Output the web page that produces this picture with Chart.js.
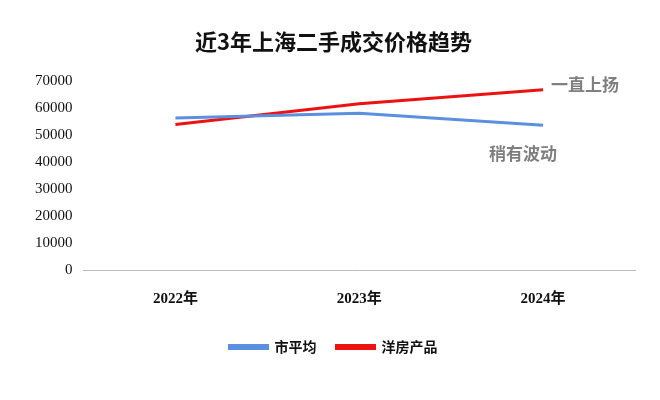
<!DOCTYPE html>
<html>
<head>
<meta charset="utf-8">
<script src="https://cdn.jsdelivr.net/npm/chart.js@4"></script>
<style>
  body { margin: 0; background: #fff; }
  #wrap { width: 660px; height: 400px; }
</style>
</head>
<body>
<div id="wrap"><canvas id="trendChart"></canvas></div>
<script>
// 数据
const years = ['2022年', '2023年', '2024年'];
const cityAvg = [56400, 58200, 53700];
const villaPrice = [54000, 61700, 66900];
const yTicks = [0, 10000, 20000, 30000, 40000, 50000, 60000, 70000];

const FONT = "'Liberation Serif', 'Noto Sans CJK SC', serif";

// 折线末端的文字标注
const notePlugin = {
    id: 'notes',
    afterDatasetsDraw(chart) {
        const c = chart.ctx;
        c.save();
        c.font = "bold 17px 'Noto Sans CJK SC'";
        c.fillStyle = '#7f7f7f';
        c.textBaseline = 'middle';
        const red = chart.getDatasetMeta(1).data[2];
        const blue = chart.getDatasetMeta(0).data[2];
        c.textAlign = 'left';
        c.fillText('一直上扬', red.x + 8, red.y - 5);
        c.textAlign = 'center';
        c.fillText('稍有波动', blue.x - 20, blue.y + 28);
        c.restore();
    }
};

new Chart(document.getElementById('trendChart'), {
    type: 'line',
    data: {
        labels: years,
        datasets: [
            { label: '市平均', data: cityAvg, borderColor: '#5b8fe0', backgroundColor: '#5b8fe0', borderWidth: 3, pointRadius: 0, tension: 0 },
            { label: '洋房产品', data: villaPrice, borderColor: '#ee1111', backgroundColor: '#ee1111', borderWidth: 3, pointRadius: 0, tension: 0 }
        ]
    },
    options: {
        responsive: true,
        maintainAspectRatio: false,
        animation: false,
        layout: { padding: { left: 32, right: 25, top: 10, bottom: 36 } },
        plugins: {
            title: {
                display: true,
                text: '近3年上海二手成交价格趋势',
                color: '#111',
                font: { family: "'Noto Sans CJK SC'", size: 22, weight: 'bold' },
                padding: { top: 18, bottom: 27 }
            },
            legend: {
                position: 'bottom',
                labels: {
                    color: '#111',
                    boxWidth: 38,
                    boxHeight: 3,
                    padding: 20,
                    font: { family: "'Noto Sans CJK SC'", size: 14, weight: 'bold' }
                }
            },
            tooltip: { enabled: false }
        },
        scales: {
            y: {
                min: 0,
                max: 70000,
                afterBuildTicks(axis) { axis.ticks = yTicks.map(v => ({ value: v })); },
                grid: { display: false },
                border: { display: false },
                ticks: { color: '#111', font: { family: FONT, size: 15 }, callback: v => String(v) }
            },
            x: {
                offset: true,
                grid: { display: false },
                border: { color: '#bbb' },
                ticks: { color: '#111', padding: 12, font: { family: FONT, size: 15, weight: 'bold' } }
            }
        }
    },
    plugins: [notePlugin]
});
</script>
</body>
</html>
